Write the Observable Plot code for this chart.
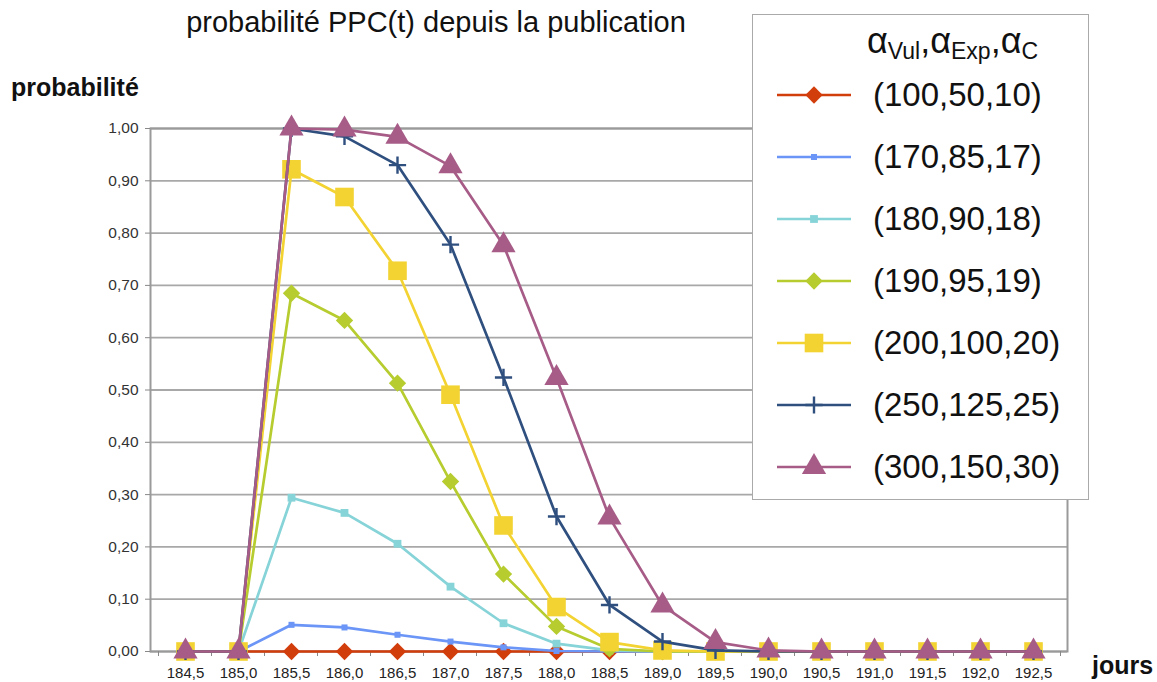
<!DOCTYPE html>
<html>
<head>
<meta charset="utf-8">
<script src="https://cdn.jsdelivr.net/npm/d3@7"></script>
<script src="https://cdn.jsdelivr.net/npm/@observablehq/plot@0.6"></script>
<style>
  html, body { margin: 0; padding: 0; background: #fff; }
  #wrap { position: relative; width: 1157px; height: 682px; font-family: "Liberation Sans", Arial, sans-serif; overflow: hidden; }
  #chart { position: absolute; left: 0; top: 0; }
  .title { position: absolute; left: 0; width: 872px; top: 6px; text-align: center; font-size: 29px; color: #111; white-space: nowrap; }
  .ylab { position: absolute; left: 11px; top: 73px; font-size: 25px; font-weight: bold; color: #111; }
  .xlab { position: absolute; left: 1092px; top: 651px; font-size: 25px; font-weight: bold; color: #111; }
  #legend { position: absolute; left: 752px; top: 14px; width: 337px; height: 486px; background: #fff; border: 1.5px solid #aaa; box-sizing: border-box; }
  #legend .head { position: absolute; left: 114px; top: 5px; font-size: 36px; color: #111; white-space: nowrap; }
  #legend .head sub { font-size: 23px; vertical-align: -6px; }
  #legend .row { position: absolute; left: 22px; height: 40px; display: flex; align-items: center; white-space: nowrap; }
  #legend .row span { font-size: 33px; color: #111; margin-left: 20px; }
</style>
</head>
<body>
<div id="wrap">
  <div id="chart"></div>
  <div class="title">probabilité PPC(t) depuis la publication</div>
  <div class="ylab">probabilité</div>
  <div class="xlab">jours</div>
  <div id="legend"></div>
</div>
<script>
// ---- data ----
const days = ["184,5","185,0","185,5","186,0","186,5","187,0","187,5","188,0","188,5","189,0","189,5","190,0","190,5","191,0","191,5","192,0","192,5"];
const seriesNames = ["(100,50,10)","(170,85,17)","(180,90,18)","(190,95,19)","(200,100,20)","(250,125,25)","(300,150,30)"];
const s100 = [0,0,0,0,0,0,0,0,0,0,0,0,0,0,0,0,0];
const s170 = [0,0,0.051,0.046,0.032,0.019,0.008,0.001,0,0,0,0,0,0,0,0,0];
const s180 = [0,0,0.294,0.265,0.206,0.124,0.054,0.015,0.002,0,0,0,0,0,0,0,0];
const s190 = [0,0,0.685,0.633,0.513,0.325,0.148,0.048,0.005,0,0,0,0,0,0,0,0];
const s200 = [0,0,0.922,0.869,0.728,0.491,0.241,0.085,0.018,0.002,0,0,0,0,0,0,0];
const s250 = [0,0,1.000,0.985,0.930,0.778,0.524,0.258,0.089,0.019,0.002,0,0,0,0,0,0];
const s300 = [0,0,1.000,0.998,0.984,0.928,0.777,0.523,0.256,0.088,0.018,0.002,0,0,0,0,0];
const yTicks = [0,0.1,0.2,0.3,0.4,0.5,0.6,0.7,0.8,0.9,1.0];

// ---- styles ----
const colors = ["#d23d0c","#6b95f6","#86d3d8","#b6cc2f","#f3d332","#2f4f7f","#a65c87"];
const symbols = ["diamond2","square","square","diamond2","square","plus","triangle"];
const radii = [7.8,3.4,4.4,7.8,10.5,5.6,9];
const values = [s100,s170,s180,s190,s200,s250,s300];

const marks = [
  Plot.gridY(yTicks, {stroke: "#a8a8a8", strokeOpacity: 1, strokeWidth: 1.8}),
  Plot.frame({stroke: "#9a9a9a", strokeWidth: 2}),
  Plot.axisY(yTicks, {tickFormat: d => d3.format(".2f")(d).replace(".", ","), tickSize: 5, tickPadding: 7, fontSize: 15.5, stroke: "#888", fill: "#333", label: null}),
  Plot.axisX({tickSize: 0, tickPadding: 16, fontSize: 15, fill: "#222", label: null}),
  Plot.axisX({tickSize: 5, fill: "none", stroke: "#888", dx: -27, label: null}),
  Plot.axisX([days[days.length - 1]], {tickSize: 5, fill: "none", stroke: "#888", dx: 27, label: null})
];

seriesNames.forEach((name, i) => {
  const rows = days.map((d, j) => ({day: d, v: values[i][j]}));
  marks.push(Plot.line(rows, {x: "day", y: "v", stroke: colors[i], strokeWidth: 2.7}));
  const isStroke = symbols[i] === "plus";
  marks.push(Plot.dot(rows, {
    x: "day", y: "v", symbol: () => symbols[i], r: radii[i],
    fill: isStroke ? "none" : colors[i],
    stroke: isStroke ? colors[i] : "none",
    strokeWidth: isStroke ? 2.4 : 0
  }));
});

const plot = Plot.plot({
  width: 1157,
  height: 682,
  marginLeft: 150,
  marginRight: 90,
  marginTop: 128,
  marginBottom: 31,
  style: {fontFamily: "'Liberation Sans', Arial, sans-serif", background: "transparent"},
  x: {type: "point", domain: days, padding: 0.5},
  y: {domain: [0, 1]},
  symbol: {domain: symbols, range: symbols},
  marks
});
document.getElementById("chart").appendChild(plot);

// ---- legend ----
const legend = document.getElementById("legend");
const head = document.createElement("div");
head.className = "head";
head.innerHTML = "α<sub>Vul</sub>,α<sub>Exp</sub>,α<sub>C</sub>";
legend.appendChild(head);
const symMap = {diamond2: d3.symbolDiamond2, square: d3.symbolSquare, plus: d3.symbolPlus, triangle: d3.symbolTriangle};
seriesNames.forEach((name, i) => {
  const row = document.createElement("div");
  row.className = "row";
  row.style.top = (60 + i * 62) + "px";
  const svg = d3.create("svg").attr("width", 78).attr("height", 30);
  svg.append("line").attr("x1", 2).attr("x2", 76).attr("y1", 15).attr("y2", 15)
    .attr("stroke", colors[i]).attr("stroke-width", 2.7);
  const isStroke = symbols[i] === "plus";
  svg.append("path")
    .attr("transform", "translate(39,15)")
    .attr("d", d3.symbol(symMap[symbols[i]], Math.PI * radii[i] * radii[i])())
    .attr("fill", isStroke ? "none" : colors[i])
    .attr("stroke", isStroke ? colors[i] : "none")
    .attr("stroke-width", isStroke ? 2.4 : 0);
  row.appendChild(svg.node());
  const sp = document.createElement("span");
  sp.textContent = name;
  row.appendChild(sp);
  legend.appendChild(row);
});
</script>
</body>
</html>
